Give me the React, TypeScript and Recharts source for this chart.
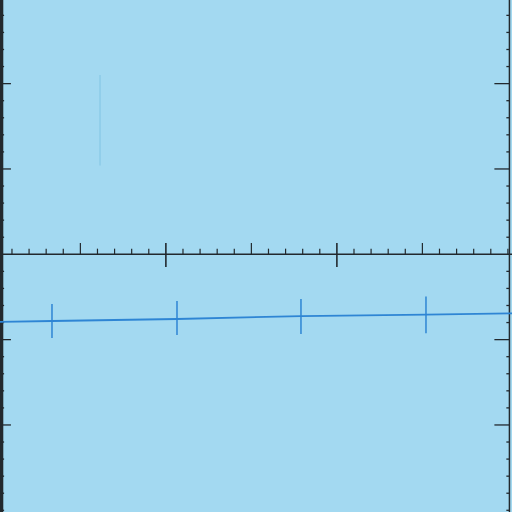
import { ComposedChart, Line, ErrorBar, XAxis, YAxis, ReferenceLine } from 'recharts'

// measured line with error bars (x in ruler units, y in axis units)
const pointX = [-0.5, 3.34, 10.65, 17.9, 25.21, 31.0]
const pointY = [-3.98, -3.91, -3.79, -3.62, -3.53, -3.45]
const errDown = [0, 1.0, 0.94, 1.05, 1.09, 0]
const errUp = [0, 1.0, 1.05, 1.0, 1.05, 0]

// ruler ticks along the middle axis
const rulerTicks = [1, 2, 3, 4, 5, 6, 7, 8, 9, 10, 11, 12, 13, 14, 15, 16, 17, 18, 19, 20, 21, 22, 23, 24, 25, 26, 27, 28, 29, 30]
const rulerMajor = [10, 20]
const rulerMid = [5, 15, 25]

// side axis ticks
const sideTicks = [-15, -14, -13, -12, -11, -10, -9, -8, -7, -6, -5, -4, -3, -2, -1, 1, 2, 3, 4, 5, 6, 7, 8, 9, 10, 11, 12, 13, 14]
const sideMajor = [-10, -5, 5, 10]

const X_DOMAIN: [number, number] = [0.3, 30.24]
const Y_DOMAIN: [number, number] = [-15.1, 14.9]
const LEFT_X = 0.39
const RIGHT_X = 30.09

const INK = '#22292e'
const BLUE = '#2e85d4'

export default function App() {
  const data = pointX.map((x, i) => ({ x, y: pointY[i], err: [errDown[i], errUp[i]] }))

  return (
    <div style={{ position: 'absolute', left: 0, top: 0, width: 512, height: 512, background: '#a3d9f1', overflow: 'hidden' }}>
      <ComposedChart width={512} height={512} data={data} margin={{ top: 0, right: 0, bottom: 0, left: 0 }}>
        <XAxis type="number" dataKey="x" domain={X_DOMAIN} hide allowDataOverflow />
        <YAxis type="number" domain={Y_DOMAIN} hide allowDataOverflow />

        {/* faint pencil mark */}
        <ReferenceLine segment={[{ x: 6.15, y: 10.5 }, { x: 6.15, y: 5.2 }]} stroke="#8ccbe8" strokeWidth={1.5} ifOverflow="visible" />

        {/* middle ruler axis */}
        <ReferenceLine segment={[{ x: X_DOMAIN[0], y: 0 }, { x: X_DOMAIN[1], y: 0 }]} stroke={INK} strokeWidth={1.5} ifOverflow="visible" />
        {rulerTicks.map(t => {
          const major = rulerMajor.includes(t)
          const mid = rulerMid.includes(t)
          const top = major || mid ? 0.66 : 0.33
          const bottom = major ? -0.75 : 0
          return (
            <ReferenceLine key={'r' + t} segment={[{ x: t, y: bottom }, { x: t, y: top }]}
              stroke={INK} strokeWidth={major ? 1.6 : 1.2} ifOverflow="visible" />
          )
        })}

        {/* left axis */}
        <ReferenceLine segment={[{ x: LEFT_X, y: Y_DOMAIN[0] }, { x: LEFT_X, y: Y_DOMAIN[1] }]} stroke={INK} strokeWidth={3.5} ifOverflow="visible" />
        {sideTicks.map(t => (
          <ReferenceLine key={'l' + t} segment={[{ x: LEFT_X, y: t }, { x: LEFT_X + (sideMajor.includes(t) ? 0.55 : 0.15), y: t }]}
            stroke={INK} strokeWidth={1.3} ifOverflow="visible" />
        ))}

        {/* right axis */}
        <ReferenceLine segment={[{ x: RIGHT_X, y: Y_DOMAIN[0] }, { x: RIGHT_X, y: Y_DOMAIN[1] }]} stroke={INK} strokeWidth={1.5} ifOverflow="visible" />
        {sideTicks.map(t => (
          <ReferenceLine key={'g' + t} segment={[{ x: RIGHT_X, y: t }, { x: RIGHT_X - (sideMajor.includes(t) ? 0.88 : 0.18), y: t }]}
            stroke={INK} strokeWidth={1.3} ifOverflow="visible" />
        ))}

        <Line type="linear" dataKey="y" stroke={BLUE} strokeWidth={1.8} dot={false} activeDot={false} isAnimationActive={false}>
          <ErrorBar dataKey="err" direction="y" width={0} stroke={BLUE} strokeWidth={1.5} isAnimationActive={false} />
        </Line>
      </ComposedChart>
    </div>
  )
}
